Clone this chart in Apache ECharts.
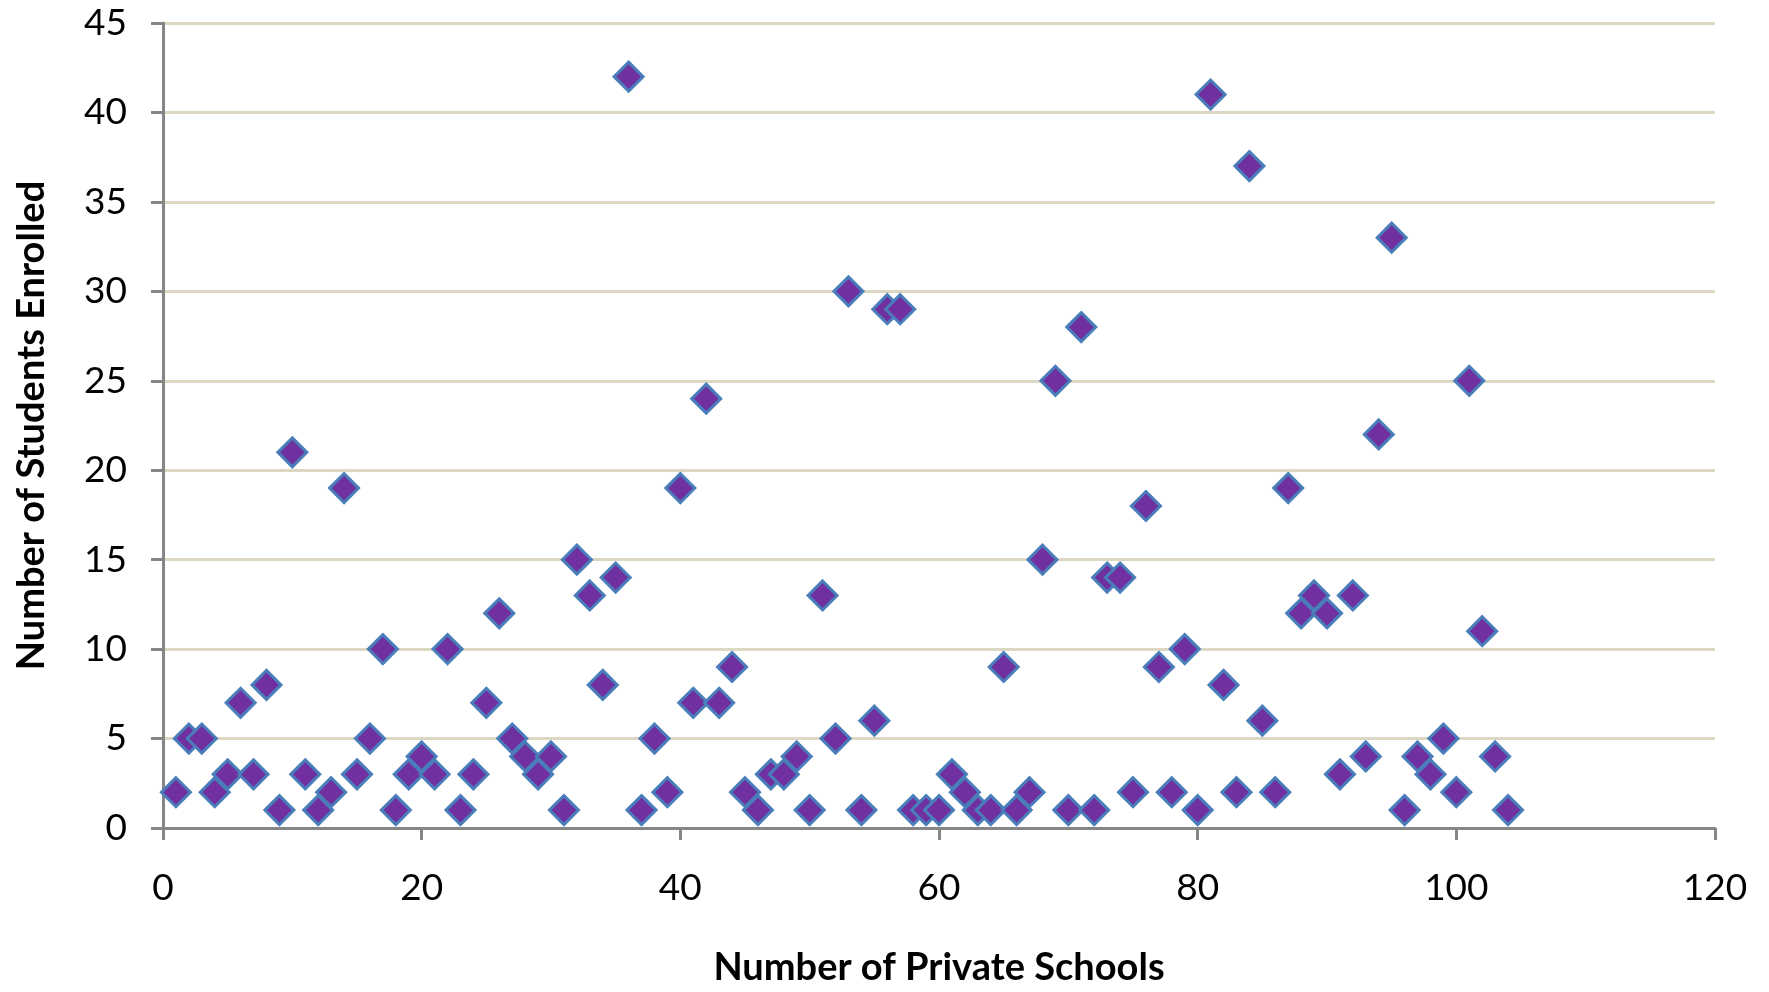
<!DOCTYPE html>
<html>
<head>
<meta charset="utf-8">
<script src="https://cdn.jsdelivr.net/npm/echarts@6/dist/echarts.min.js"></script>
<style>
html,body{margin:0;padding:0;background:#fff;}
#chart{width:1769px;height:992px;}
</style>
</head>
<body>
<div id="chart"></div>
<script>
const schoolNumbers = [];
for (let i = 1; i <= 104; i++) schoolNumbers.push(i);
const studentsEnrolled = [
  2, 5, 5, 2, 3, 7, 3, 8, 1, 21,
  3, 1, 2, 19, 3, 5, 10, 1, 3, 4,
  3, 10, 1, 3, 7, 12, 5, 4, 3, 4,
  1, 15, 13, 8, 14, 42, 1, 5, 2, 19,
  7, 24, 7, 9, 2, 1, 3, 3, 4, 1,
  13, 5, 30, 1, 6, 29, 29, 1, 1, 1,
  3, 2, 1, 1, 9, 1, 2, 15, 25, 1,
  28, 1, 14, 14, 2, 18, 9, 2, 10, 1,
  41, 8, 2, 37, 6, 2, 19, 12, 13, 12,
  3, 13, 4, 22, 33, 1, 4, 3, 5, 2,
  25, 11, 4, 1
];
const xTitle = 'Number of Private Schools';
const yTitle = 'Number of Students Enrolled';

const points = schoolNumbers.map((x, i) => [x, studentsEnrolled[i]]);

const chart = echarts.init(document.getElementById('chart'));
const fontFam = 'Lato, "Open Sans", sans-serif';
chart.setOption({
  animation: false,
  backgroundColor: '#ffffff',
  grid: { left: 163, right: 54, top: 23, bottom: 156, containLabel: false },
  xAxis: {
    type: 'value',
    min: 0, max: 120, interval: 20,
    name: xTitle,
    nameLocation: 'middle',
    nameGap: 121,
    nameTextStyle: { fontFamily: fontFam, fontWeight: 'bold', fontSize: 38, color: '#000' },
    axisLine: { show: true, lineStyle: { color: '#868686', width: 3 } },
    axisTick: { show: true, inside: false, length: 12, lineStyle: { color: '#868686', width: 3 } },
    axisLabel: { fontFamily: fontFam, fontSize: 37, color: '#000', margin: 42 },
    splitLine: { show: false }
  },
  yAxis: {
    type: 'value',
    min: 0, max: 45, interval: 5,
    name: yTitle,
    nameLocation: 'middle',
    nameGap: 112,
    nameRotate: 90,
    nameTextStyle: { fontFamily: fontFam, fontWeight: 'bold', fontSize: 38, color: '#000' },
    axisLine: { show: true, lineStyle: { color: '#868686', width: 3 } },
    axisTick: { show: true, inside: false, length: 12, lineStyle: { color: '#868686', width: 3 } },
    axisLabel: { fontFamily: fontFam, fontSize: 37, color: '#000', margin: 36 },
    splitLine: { show: true, lineStyle: { color: '#DDD8C3', width: 3 } }
  },
  series: [{
    type: 'scatter',
    data: points,
    symbol: 'diamond',
    symbolSize: 29,
    itemStyle: { color: '#7030A0', borderColor: '#4A7EBB', borderWidth: 3, opacity: 1 }
  }]
});
</script>
</body>
</html>
